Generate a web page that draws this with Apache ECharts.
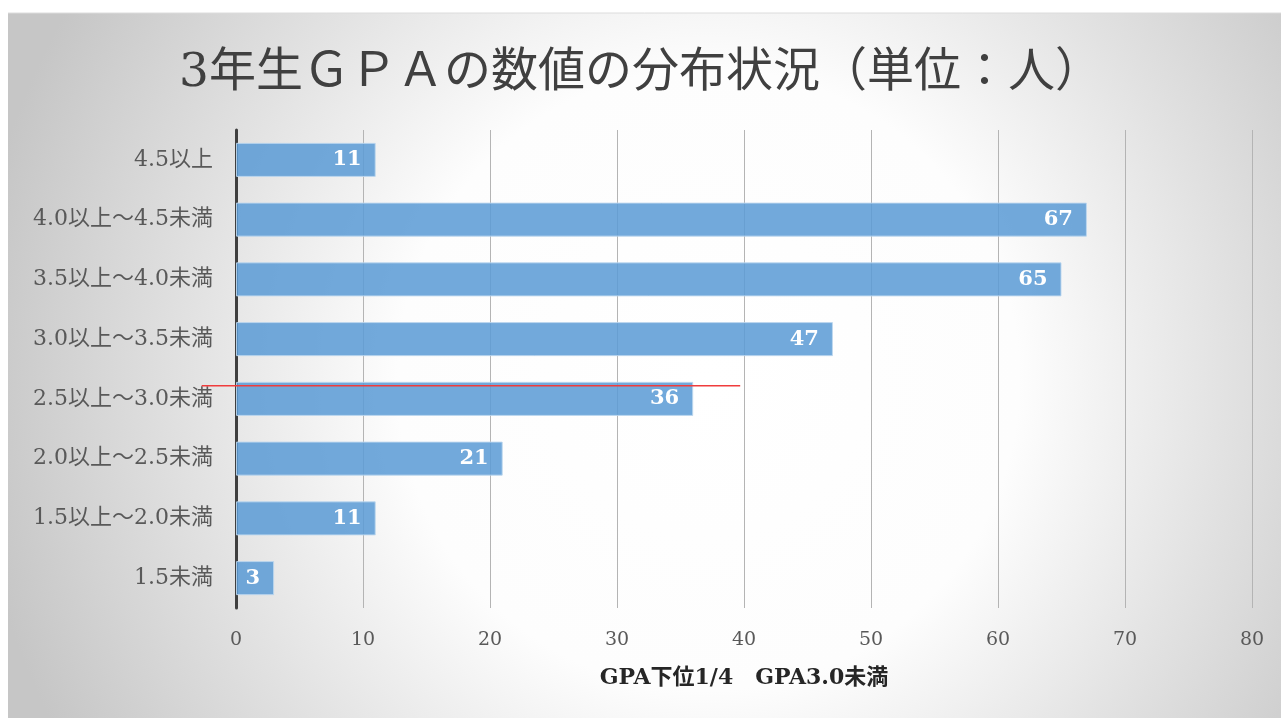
<!DOCTYPE html>
<html>
<head>
<meta charset="utf-8">
<script src="https://cdn.jsdelivr.net/npm/echarts@6/dist/echarts.min.js"></script>
<style>
  html, body { margin: 0; padding: 0; background: #ffffff; }
  #chart { width: 1281px; height: 718px; }
</style>
</head>
<body>
<div id="chart"></div>
<script>
// GPA bands, top to bottom
const categories = [
  '4.5以上',
  '4.0以上～4.5未満',
  '3.5以上～4.0未満',
  '3.0以上～3.5未満',
  '2.5以上～3.0未満',
  '2.0以上～2.5未満',
  '1.5以上～2.0未満',
  '1.5未満'
];
// number of students in each band
const counts = [11, 67, 65, 47, 36, 21, 11, 3];
// value axis ticks
const axisMin = 0;
const axisMax = 80;
const axisStep = 10;

const titleText = '3年生ＧＰＡの数値の分布状況（単位：人）';
const axisTitle = 'GPA下位1/4　GPA3.0未満';

// red reference line: spans this value range, sitting just below the top edge of the 2.5–3.0 band bar
const refLineFrom = -2.7;
const refLineTo = 39.7;
const refLineCategory = '2.5以上～3.0未満';

const serif = '"DejaVu Serif", "Noto Sans CJK JP", serif';

const chart = echarts.init(document.getElementById('chart'), null, { renderer: 'canvas' });

const option = {
  animation: false,
  backgroundColor: '#ffffff',
  graphic: [
    {
      type: 'rect',
      z: -10,
      silent: true,
      shape: { x: 8, y: 13, width: 1273, height: 705 },
      style: {
        fill: {
          type: 'radial',
          x: 0.55, y: 0.52, r: 1.05,
          colorStops: [
            { offset: 0, color: '#ffffff' },
            { offset: 0.42, color: '#fdfdfd' },
            { offset: 0.7, color: '#e2e2e2' },
            { offset: 1, color: '#c6c6c6' }
          ]
        }
      }
    },
    {
      type: 'line',
      z: -9,
      silent: true,
      shape: { x1: 8, y1: 13, x2: 1281, y2: 13 },
      style: { stroke: '#dcdcdc', lineWidth: 1 }
    }
  ],
  title: {
    text: titleText,
    left: 'center',
    top: 45,
    textStyle: {
      fontFamily: '"DejaVu Serif", "Noto Sans CJK JP", serif',
      fontSize: 47,
      fontWeight: 'normal',
      color: '#404040'
    }
  },
  grid: { left: 236, right: 29, top: 130, bottom: 110, containLabel: false },
  xAxis: {
    type: 'value',
    min: axisMin,
    max: axisMax,
    interval: axisStep,
    name: axisTitle,
    nameLocation: 'middle',
    nameGap: 59,
    nameTextStyle: {
      fontFamily: serif,
      fontSize: 22,
      fontWeight: 'bold',
      color: '#262626'
    },
    axisLine: { show: false },
    axisTick: { show: false },
    axisLabel: {
      margin: 23,
      fontFamily: serif,
      fontSize: 19,
      color: '#595959'
    },
    splitLine: { show: true, lineStyle: { color: '#b4b4b4', width: 1 } }
  },
  yAxis: {
    type: 'category',
    data: categories,
    inverse: true,
    axisLine: { show: true, lineStyle: { color: '#3f3f3f', width: 3 } },
    axisTick: { show: false },
    axisLabel: {
      margin: 23,
      fontFamily: serif,
      fontSize: 22,
      color: '#595959'
    },
    splitLine: { show: false }
  },
  series: [
    {
      type: 'bar',
      data: counts,
      barWidth: '57%',
      itemStyle: {
        color: 'rgba(91,155,213,0.86)',
        borderColor: 'rgba(189,215,238,0.9)',
        borderWidth: 1
      },
      label: {
        show: true,
        position: 'insideRight',
        distance: 14,
        fontFamily: serif,
        fontSize: 21,
        fontWeight: 'bold',
        color: '#ffffff'
      }
    }
  ]
};

chart.setOption(option);

// place the red reference line through the chart's own scales
const idx = categories.indexOf(refLineCategory);
const p1 = chart.convertToPixel({ gridIndex: 0 }, [refLineFrom, idx]);
const p2 = chart.convertToPixel({ gridIndex: 0 }, [refLineTo, idx]);
const p0 = chart.convertToPixel({ gridIndex: 0 }, [0, 0]);
const p1c = chart.convertToPixel({ gridIndex: 0 }, [0, 1]);
const band = Math.abs(p1c[1] - p0[1]);
const yLine = p1[1] - band * 0.22;
chart.setOption({
  graphic: [
    {},
    {},
    {
      type: 'line',
      z: 100,
      silent: true,
      shape: { x1: p1[0], y1: yLine, x2: p2[0], y2: yLine },
      style: { stroke: '#f03c3c', lineWidth: 1.5 }
    }
  ]
});
</script>
</body>
</html>
